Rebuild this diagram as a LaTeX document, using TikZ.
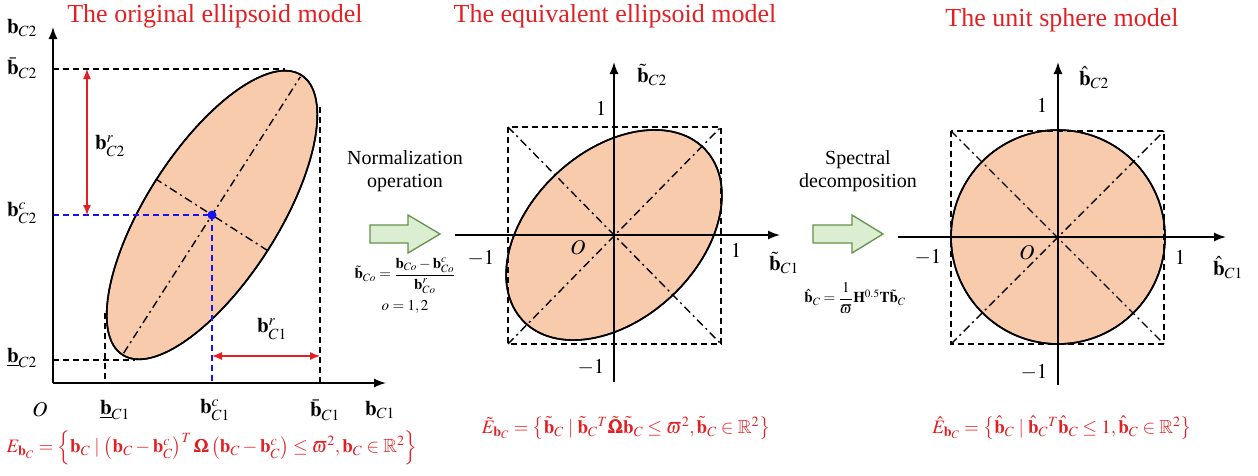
\documentclass[tikz,border=0pt]{standalone}
\usepackage{amsmath,amssymb}
\usepackage{mathptmx}
\usepackage{bm}
\usepackage[no-math]{fontspec}
\setmainfont{Liberation Serif}
\usetikzlibrary{arrows.meta}
\definecolor{tred}{RGB}{226,32,36}
\definecolor{efill}{RGB}{248,203,173}
\definecolor{gfill}{RGB}{220,238,210}
\definecolor{gline}{RGB}{100,145,75}
\definecolor{dblue}{RGB}{20,20,235}
\tikzset{
  axis/.style={line width=1.5pt,-{Latex[length=12pt,width=9pt]}},
  dline/.style={line width=1.5pt,dash pattern=on 6pt off 4pt},
  ddot/.style={line width=1.4pt,dash pattern=on 8pt off 4pt on 2pt off 4pt},
  ell/.style={fill=efill,draw=black,line width=1.6pt},
  lab/.style={inner sep=0pt,font=\fontsize{21}{24}\selectfont},
  ttl/.style={inner sep=0pt,text=tred,font=\fontsize{26}{28}\selectfont},
  frm/.style={inner sep=0pt,text=tred,font=\fontsize{19}{22}\selectfont},
  small/.style={inner sep=0pt,font=\fontsize{15}{17}\selectfont},
  op/.style={inner sep=0pt,align=center,font=\fontsize{20}{23}\selectfont},
  garrow/.style={draw=gline,fill=gfill,line width=1.3pt,line join=miter},
  rarr/.style={draw=tred,line width=1.2pt,{Latex[length=10pt,width=8pt]}-{Latex[length=10pt,width=8pt]}}
}
\begin{document}
\begin{tikzpicture}[x=1pt,y=-1pt]
\useasboundingbox (0,0) rectangle (1258,475);
% ---------------- left panel ----------------
\node[ttl] (t1) at (215,16) {The original ellipsoid model};
\coordinate (o1) at (53,383);
\coordinate (y1) at (53,27);
\coordinate (x1) at (386,383);
\coordinate (c1) at (212,215);
\coordinate (cL) at (53,215);
\coordinate (cB) at (212,383);
\coordinate (topL) at (53,69);
\coordinate (topE) at (285,69);
\coordinate (botL) at (53,360);
\coordinate (botE) at (135,360);
\coordinate (rgtT) at (320,107);
\coordinate (rgtB) at (320,383);
\coordinate (lftT) at (105,313);
\coordinate (lftB) at (105,383);
\fill[ell] (c1) ellipse [x radius=166pt, y radius=66pt, rotate=57.4];
\begin{scope}[shift={(c1)},rotate=57.4]
  \draw[ddot] (-164pt,0pt) -- (164pt,0pt);
  \draw[ddot] (0pt,-66pt) -- (0pt,66pt);
\end{scope}
\draw[ell,fill=none] (c1) ellipse [x radius=166pt, y radius=66pt, rotate=57.4];
\draw[dline] (topL) -- (topE);
\draw[dline] (botL) -- (botE);
\draw[dline] (rgtT) -- (rgtB);
\draw[dline] (lftT) -- (lftB);
\draw[dline,dblue] (cL) -- (c1);
\draw[dline,dblue] (c1) -- (cB);
\fill[dblue] (c1) circle (4.5pt);
\draw[axis] (o1) -- (y1);
\draw[axis] (o1) -- (x1);
\draw[rarr] (87,69) -- (87,215);
\draw[rarr] (212,356) -- (320,356);
\node[lab] (br2) at (110,146) {$\mathbf{b}^{r}_{C2}$};
\node[lab] (br1) at (272,329) {$\mathbf{b}^{r}_{C1}$};
\node[lab] (ly) at (22,28) {$\mathbf{b}_{C2}$};
\node[lab] (lub) at (22,68) {$\bar{\mathbf{b}}_{C2}$};
\node[lab] (lc2) at (22,213) {$\mathbf{b}^{c}_{C2}$};
\node[lab] (llb) at (22,358) {$\underline{\mathbf{b}}_{C2}$};
\node[lab] (lO) at (40,410) {$O$};
\node[lab] (lx1) at (115,410) {$\underline{\mathbf{b}}_{C1}$};
\node[lab] (lc1) at (215,410) {$\mathbf{b}^{c}_{C1}$};
\node[lab] (lbx) at (325,410) {$\bar{\mathbf{b}}_{C1}$};
\node[lab] (lx) at (380,410) {$\mathbf{b}_{C1}$};
\node[frm] (f1) at (212,448) {$E_{\mathbf{b}_C}=\left\{\mathbf{b}_C\mid\left(\mathbf{b}_C-\mathbf{b}^{c}_C\right)^{T}\bm{\Omega}\left(\mathbf{b}_C-\mathbf{b}^{c}_C\right)\le\varpi^{2},\mathbf{b}_C\in\mathbb{R}^{2}\right\}$};
% ---------------- normalization arrow ----------------
\node[op] (n1) at (405,171) {Normalization\\operation};
\draw[garrow] (370,225) -- (408,225) -- (408,215) -- (440,234) -- (408,253) -- (408,243) -- (370,243) -- cycle;
\node[small] (nf) at (405,276) {$\tilde{\mathbf{b}}_{Co}=\dfrac{\mathbf{b}_{Co}-\mathbf{b}^{c}_{Co}}{\mathbf{b}^{r}_{Co}}$};
\node[small] (no) at (405,307) {$o=1,2$};
% ---------------- middle panel ----------------
\node[ttl] (t2) at (615,16) {The equivalent ellipsoid model};
\coordinate (c2) at (614,235);
\coordinate (xl2) at (455,235);
\coordinate (xr2) at (780,235);
\coordinate (yb2) at (614,382);
\coordinate (yt2) at (614,62);
\fill[ell] (c2) ellipse [x radius=125pt, y radius=84pt, rotate=43];
\draw[dline] (508,127) rectangle (721,344);
\draw[ddot] (508,127) -- (721,344);
\draw[ddot] (508,344) -- (721,127);
\draw[ell,fill=none] (c2) ellipse [x radius=125pt, y radius=84pt, rotate=43];
\draw[axis] (xl2) -- (xr2);
\draw[axis] (yb2) -- (yt2);
\node[lab] (m1) at (652,75) {$\tilde{\mathbf{b}}_{C2}$};
\node[lab] (m2) at (601,108) {$1$};
\node[lab] (m3) at (481,258) {$-1$};
\node[lab] (m4) at (578,248) {$O$};
\node[lab] (m5) at (736,250) {$1$};
\node[lab] (m6) at (784,263) {$\tilde{\mathbf{b}}_{C1}$};
\node[lab] (m7) at (591,367) {$-1$};
\node[frm] (f2) at (626,428) {$\tilde{E}_{\mathbf{b}_C}=\left\{\tilde{\mathbf{b}}_C\mid\tilde{\mathbf{b}}_C{}^{T}\tilde{\bm{\Omega}}\tilde{\mathbf{b}}_C\le\varpi^{2},\tilde{\mathbf{b}}_C\in\mathbb{R}^{2}\right\}$};
% ---------------- spectral arrow ----------------
\node[op] (s1) at (858,171) {Spectral\\decomposition};
\draw[garrow] (813,225) -- (852,225) -- (852,215) -- (883,234) -- (852,253) -- (852,243) -- (813,243) -- cycle;
\node[small] (sf) at (855,298) {$\hat{\mathbf{b}}_{C}=\dfrac{1}{\varpi}\mathbf{H}^{0.5}\mathbf{T}\tilde{\mathbf{b}}_{C}$};
% ---------------- right panel ----------------
\node[ttl] (t3) at (1062,20) {The unit sphere model};
\coordinate (c3) at (1058,237);
\coordinate (xl3) at (898,237);
\coordinate (xr3) at (1226,237);
\coordinate (yb3) at (1058,385);
\coordinate (yt3) at (1058,62);
\fill[ell] (c3) circle (107pt);
\draw[dline] (951,131) rectangle (1164,344);
\draw[ddot] (951,131) -- (1164,344);
\draw[ddot] (951,344) -- (1164,131);
\draw[ell,fill=none] (c3) circle (107pt);
\draw[axis] (xl3) -- (xr3);
\draw[axis] (yb3) -- (yt3);
\node[lab] (r1) at (1094,78) {$\hat{\mathbf{b}}_{C2}$};
\node[lab] (r2) at (1042,105) {$1$};
\node[lab] (r3) at (928,257) {$-1$};
\node[lab] (r4) at (1027,253) {$O$};
\node[lab] (r5) at (1180,257) {$1$};
\node[lab] (r6) at (1228,268) {$\hat{\mathbf{b}}_{C1}$};
\node[lab] (r7) at (1034,372) {$-1$};
\node[frm] (f3) at (1062,428) {$\hat{E}_{\mathbf{b}_C}=\left\{\hat{\mathbf{b}}_C\mid\hat{\mathbf{b}}_C{}^{T}\hat{\mathbf{b}}_C\le 1,\hat{\mathbf{b}}_C\in\mathbb{R}^{2}\right\}$};
\end{tikzpicture}
\end{document}
